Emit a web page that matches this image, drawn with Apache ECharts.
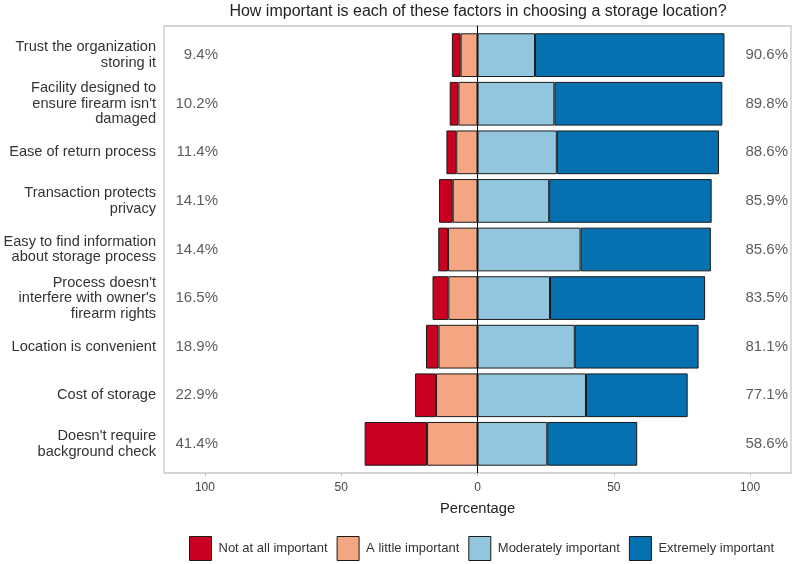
<!DOCTYPE html>
<html>
<head>
<meta charset="utf-8">
<script src="https://cdn.jsdelivr.net/npm/echarts@6/dist/echarts.min.js"></script>
<style>html,body{margin:0;padding:0;background:#fff}#c{width:796px;height:564px}</style>
</head>
<body>
<div id="c"></div>
<script>
const categories = [
  "Trust the organization\nstoring it",
  "Facility designed to\nensure firearm isn't\ndamaged",
  "Ease of return process",
  "Transaction protects\nprivacy",
  "Easy to find information\nabout storage process",
  "Process doesn't\ninterfere with owner's\nfirearm rights",
  "Location is convenient",
  "Cost of storage",
  "Doesn't require\nbackground check"
];
const notAtAll   = [3.2, 3.2, 3.6, 5.0, 3.6, 5.8, 4.6, 7.7, 22.9];
const aLittle    = [6.2, 7.0, 7.8, 9.1, 10.8, 10.7, 14.3, 15.2, 18.5];
const moderately = [21.1, 28.2, 29.1, 26.3, 37.8, 26.6, 35.7, 39.8, 25.6];
const extremely  = [69.5, 61.6, 59.5, 59.6, 47.8, 56.9, 45.4, 37.3, 33.0];
const leftTotals  = ["9.4%", "10.2%", "11.4%", "14.1%", "14.4%", "16.5%", "18.9%", "22.9%", "41.4%"];
const rightTotals = ["90.6%", "89.8%", "88.6%", "85.9%", "85.6%", "83.5%", "81.1%", "77.1%", "58.6%"];
const tickValues = [-100, -50, 0, 50, 100];
const seriesNames = ["Not at all important", "A little important", "Moderately important", "Extremely important"];
const colors = ["#CA0020", "#F4A582", "#92C5DE", "#0571B0"];

const FONT = "Liberation Sans, Arial, sans-serif";
const chart = echarts.init(document.getElementById('c'), null, {renderer: 'canvas'});

const gridTop = 26, gridH = 447;
const unit = gridH / 9.2;
const barStyle = c => ({color: c, borderColor: '#1a1a1a', borderWidth: 1});

function barSeries(name, data, color, sign) {
  return {
    name: name, type: 'bar', stack: 'total', xAxisIndex: 1, yAxisIndex: 1,
    data: data.map(v => sign * v), barWidth: '90%', itemStyle: barStyle(color),
    silent: true
  };
}
function labelSeries(xPos, labels) {
  return {
    type: 'scatter', xAxisIndex: 1, yAxisIndex: 1, symbolSize: 0, silent: true,
    data: labels.map((t, i) => [xPos, i]),
    label: {show: true, position: 'left', distance: 0, fontFamily: FONT, fontSize: 15, color: '#333',
      formatter: p => labels[p.dataIndex]}
  };
}

chart.setOption({
  animation: false,
  title: {
    text: 'How important is each of these factors in choosing a storage location?',
    left: 473, textAlign: 'center', top: -1,
    textStyle: {fontFamily: FONT, fontSize: 16, fontWeight: 'normal', color: '#222'}
  },
  grid: [
    {left: 164, width: 627, top: gridTop, height: gridH, show: true, borderColor: '#c8c8c8', borderWidth: 1.3,
      backgroundColor: '#fff', outerBoundsMode: 'none', containLabel: false},
    {left: 164, width: 627, top: gridTop + unit * 0.1, height: unit * 9, outerBoundsMode: 'none', containLabel: false}
  ],
  xAxis: [
    {gridIndex: 0, type: 'value', min: -115, max: 115,
      axisLine: {show: false},
      axisTick: {show: true, customValues: tickValues, length: 3, lineStyle: {color: '#bbb'}},
      axisLabel: {customValues: tickValues, formatter: v => String(Math.abs(v)), fontFamily: FONT, fontSize: 12, color: '#444', margin: 9},
      splitLine: {show: false},
      name: 'Percentage', nameLocation: 'middle', nameGap: 28,
      nameTextStyle: {fontFamily: FONT, fontSize: 14.7, color: '#222'}
    },
    {gridIndex: 1, type: 'value', min: -115, max: 115, show: false}
  ],
  yAxis: [
    {gridIndex: 0, type: 'value', min: 0, max: 1,
      axisLine: {show: true, onZero: true, lineStyle: {color: '#000', width: 1}},
      axisTick: {show: false}, axisLabel: {show: false}, splitLine: {show: false}},
    {gridIndex: 1, type: 'category', inverse: true, data: categories,
      axisLine: {show: false},
      axisTick: {show: true, alignWithLabel: true, length: 3, lineStyle: {color: '#bbb'}},
      axisLabel: {fontFamily: FONT, fontSize: 14.6, lineHeight: 15.5, color: '#333', margin: 8, align: 'right'}
    }
  ],
  legend: {
    data: seriesNames, left: 184, top: 531, itemWidth: 22, itemHeight: 24, itemGap: 9,
    icon: 'rect',
    itemStyle: {borderColor: '#1a1a1a', borderWidth: 1},
    textStyle: {fontFamily: FONT, fontSize: 13, color: '#333', padding: [0, 0, 0, 2]}
  },
  series: [
    barSeries(seriesNames[1], aLittle, colors[1], -1),
    barSeries(seriesNames[0], notAtAll, colors[0], -1),
    barSeries(seriesNames[2], moderately, colors[2], 1),
    barSeries(seriesNames[3], extremely, colors[3], 1),
    labelSeries(-95.2, leftTotals),
    labelSeries(113.9, rightTotals)
  ]
});
</script>
</body>
</html>
